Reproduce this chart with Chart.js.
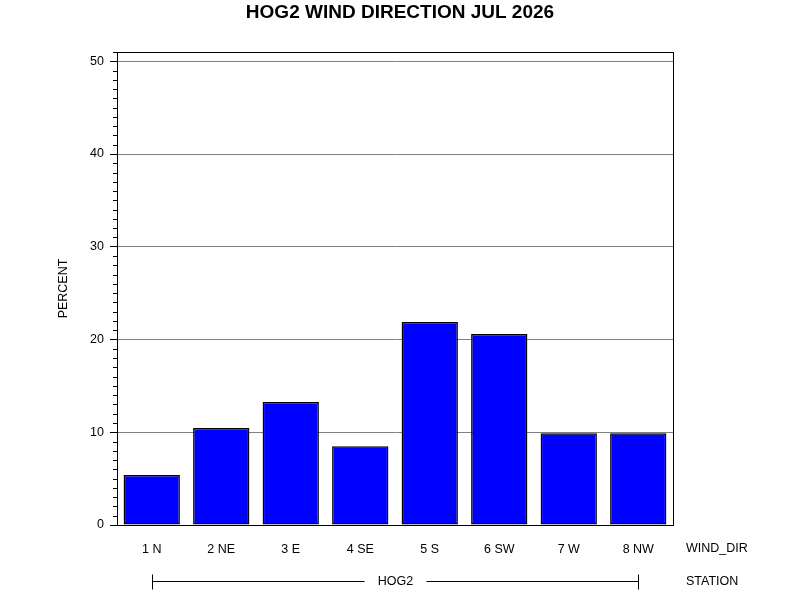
<!DOCTYPE html>
<html>
<head>
<meta charset="utf-8">
<script src="https://cdn.jsdelivr.net/npm/chart.js@4"></script>
<style>
    html, body { margin: 0; padding: 0; background: #fff; }
    #wrap { width: 800px; height: 600px; }
</style>
</head>
<body>
<div id="wrap"><canvas id="windChart" width="800" height="600"></canvas></div>
<script>
// ========== DATA ========== //
const windDirs = ["1 N", "2 NE", "3 E", "4 SE", "5 S", "6 SW", "7 W", "8 NW"];
const percentValues = [5.4, 10.45, 13.25, 8.5, 21.9, 20.6, 9.9, 9.9];
const yTickLabels = [0, 10, 20, 30, 40, 50];
const stationName = "HOG2";

const FONT = "'Liberation Sans', Arial, sans-serif";

// ========== EXTRA DECORATIONS ========== //
const decorations = {
    id: 'decorations',
    afterDraw(chart) {
        const c = chart.ctx;
        const area = chart.chartArea;
        const y = chart.scales.y;
        const x = chart.scales.x;

        c.save();
        // frame
        c.strokeStyle = "#000";
        c.lineWidth = 1;
        c.strokeRect(Math.round(area.left) + 0.5, Math.round(area.top) + 0.5,
            Math.round(area.right - area.left), Math.round(area.bottom - area.top));

        // minor ticks every 1 unit
        c.beginPath();
        for (let v = 0; v <= y.max; v++) {
            if (v % 10 === 0) continue;
            const py = Math.round(y.getPixelForValue(v)) + 0.5;
            c.moveTo(area.left - 4, py);
            c.lineTo(area.left, py);
        }
        c.stroke();

        // station bracket
        const x0 = Math.round(x.getPixelForValue(0)) + 0.5;
        const x1 = Math.round(x.getPixelForValue(windDirs.length - 1)) + 0.5;
        const ly = 581.5;
        const mid = (x0 + x1) / 2;
        c.font = "12.5px " + FONT;
        c.fillStyle = "#000";
        c.textAlign = "center";
        c.textBaseline = "middle";
        c.fillText(stationName, mid, ly);
        const gap = 31;
        c.beginPath();
        c.moveTo(x0, ly); c.lineTo(mid - gap, ly);
        c.moveTo(mid + gap, ly); c.lineTo(x1, ly);
        c.moveTo(x0, ly - 7); c.lineTo(x0, ly + 8);
        c.moveTo(x1, ly - 7); c.lineTo(x1, ly + 8);
        c.stroke();

        // row labels on the right
        c.textAlign = "left";
        c.fillText("WIND_DIR", 686, 549);
        c.fillText("STATION", 686, 582);
        c.restore();
    }
};

// ========== CHART ========== //
const ctx = document.getElementById('windChart');
new Chart(ctx, {
    type: 'bar',
    data: {
        labels: windDirs,
        datasets: [{
            label: "PERCENT",
            data: percentValues,
            backgroundColor: "#0000ff",
            borderColor: "#000000",
            borderWidth: 1.5,
            borderSkipped: false,
            barPercentage: 0.81,
            categoryPercentage: 1
        }]
    },
    options: {
        responsive: false,
        animation: false,
        devicePixelRatio: 1,
        layout: { padding: 0 },
        plugins: {
            legend: { display: false },
            tooltip: { enabled: false },
            title: {
                display: true,
                text: "HOG2 WIND DIRECTION JUL 2026",
                color: "#000",
                font: { family: FONT, size: 19, weight: 'bold' },
                padding: { top: 1, bottom: 28.2 }
            }
        },
        scales: {
            x: {
                grid: { display: false, drawTicks: false },
                border: { color: "#000" },
                ticks: { color: "#000", font: { family: FONT, size: 12.5 }, padding: 17, maxRotation: 0 },
                afterFit: s => { s.height = 75; }
            },
            y: {
                min: 0,
                max: 51,
                z: 1,
                afterBuildTicks: s => {
                    s.ticks = yTickLabels.map(v => ({ value: v }));
                },
                grid: { color: "#808080", tickColor: "#000", tickLength: 7 },
                border: { color: "#000" },
                ticks: { color: "#000", font: { family: FONT, size: 12.5 }, padding: 6 },
                title: {
                    display: true,
                    text: "PERCENT",
                    color: "#000",
                    font: { family: FONT, size: 12.5 },
                    padding: { top: 56, bottom: 0 }
                },
                afterFit: s => { s.width = 117; }
            },
            yRight: {
                position: 'right',
                display: true,
                grid: { display: false, drawTicks: false },
                border: { display: false },
                ticks: { display: false },
                afterFit: s => { s.width = 127; }
            }
        }
    },
    plugins: [decorations]
});
</script>
</body>
</html>
